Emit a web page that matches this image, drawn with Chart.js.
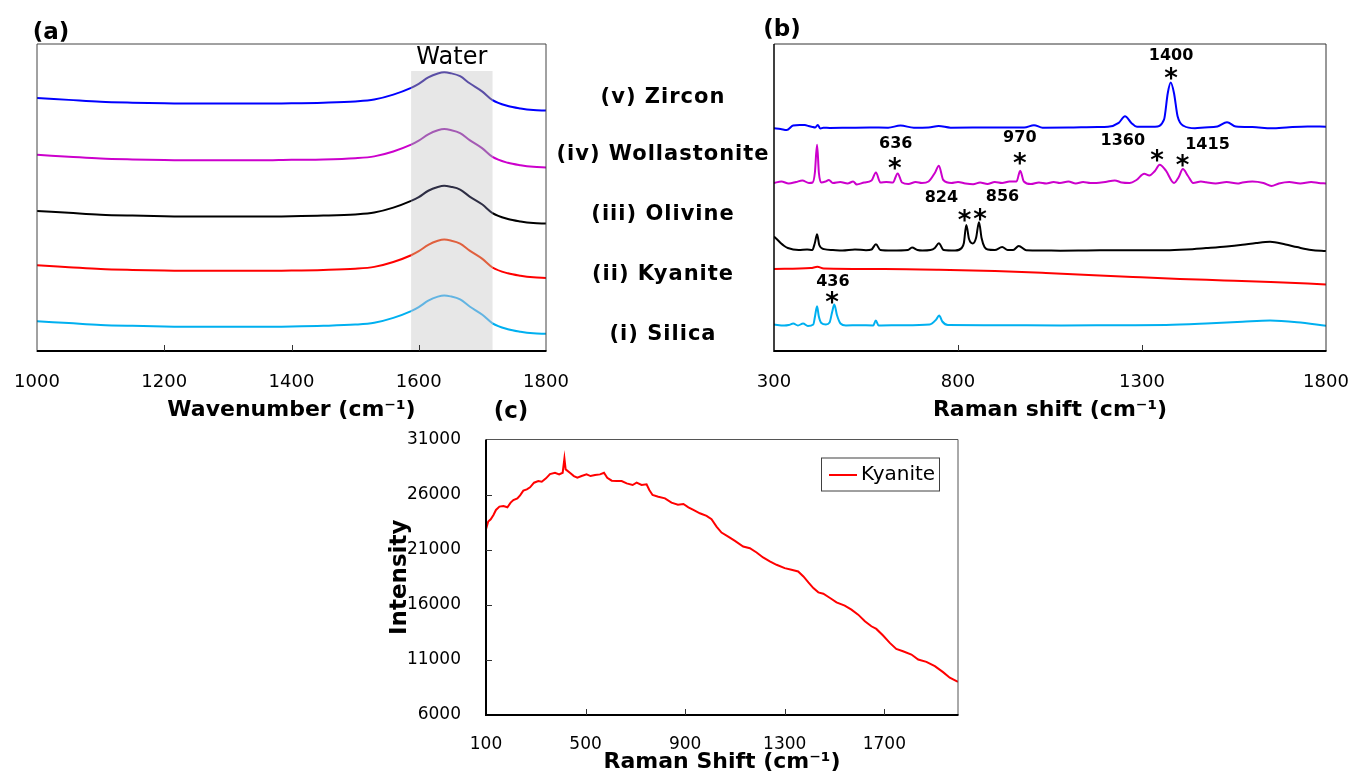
<!DOCTYPE html>
<html>
<head>
<meta charset="utf-8">
<script src="https://cdn.jsdelivr.net/npm/chart.js@4.4.1/dist/chart.umd.min.js"></script>
<style>
  body { margin: 0; background: #fff; width: 1352px; height: 775px; overflow: hidden; position: relative; font-family: 'DejaVu Sans', sans-serif; }
  canvas { position: absolute; left: 0; top: 0; }
  .lbl { position: absolute; transform: translate(-50%, -50%); font-weight: bold; white-space: nowrap; color: #000; }
  .sample { font-size: 21px; letter-spacing: 1px; }
  .panel { font-size: 23px; }
</style>
</head>
<body>
<canvas id="chartA" width="1352" height="775"></canvas>
<canvas id="chartB" width="1352" height="775"></canvas>
<canvas id="chartC" width="1352" height="775"></canvas>

<div class="lbl panel" style="left:51px;top:31px">(a)</div>
<div class="lbl panel" style="left:782px;top:28px">(b)</div>
<div class="lbl panel" style="left:511px;top:410px">(c)</div>
<div class="lbl sample" style="left:663px;top:96px">(v) Zircon</div>
<div class="lbl sample" style="left:663px;top:153px">(iv) Wollastonite</div>
<div class="lbl sample" style="left:663px;top:213px">(iii) Olivine</div>
<div class="lbl sample" style="left:663px;top:273px">(ii) Kyanite</div>
<div class="lbl sample" style="left:663px;top:333px">(i) Silica</div>

<script>
// ---- (a) FTIR, stacked spectra around the water band ----
const wavenumberA = [1000, 1050, 1100, 1150, 1200, 1250, 1300, 1350, 1400, 1450, 1500, 1530, 1560, 1588,
  1600, 1615, 1630, 1640, 1650, 1665, 1680, 1700, 1716, 1740, 1760, 1780, 1800];
const zirconA = [8.24, 8.18, 8.12, 8.09, 8.07, 8.06, 8.06, 8.06, 8.07, 8.09, 8.13, 8.19, 8.35, 8.57,
  8.70, 8.91, 9.04, 9.08, 9.05, 8.95, 8.72, 8.45, 8.17, 7.98, 7.90, 7.85, 7.83];
const wollastoniteA = [6.39, 6.33, 6.27, 6.24, 6.22, 6.21, 6.21, 6.21, 6.23, 6.24, 6.28, 6.34, 6.50, 6.72,
  6.85, 7.06, 7.19, 7.23, 7.20, 7.10, 6.87, 6.60, 6.32, 6.13, 6.05, 6.00, 5.98];
const olivineA = [4.56, 4.50, 4.44, 4.41, 4.39, 4.38, 4.38, 4.38, 4.39, 4.41, 4.45, 4.51, 4.67, 4.89,
  5.01, 5.22, 5.34, 5.38, 5.35, 5.26, 5.03, 4.77, 4.49, 4.30, 4.22, 4.17, 4.15];
const kyaniteA = [2.79, 2.73, 2.67, 2.64, 2.62, 2.61, 2.61, 2.61, 2.62, 2.64, 2.68, 2.74, 2.90, 3.12,
  3.25, 3.46, 3.59, 3.63, 3.60, 3.50, 3.27, 3.00, 2.72, 2.53, 2.45, 2.40, 2.38];
const silicaA = [0.97, 0.91, 0.85, 0.82, 0.80, 0.79, 0.79, 0.79, 0.80, 0.82, 0.86, 0.92, 1.08, 1.30,
  1.43, 1.64, 1.77, 1.81, 1.78, 1.68, 1.45, 1.18, 0.90, 0.71, 0.63, 0.58, 0.56];
const ticksA = [1000, 1200, 1400, 1600, 1800];
const waterBand = [1588, 1716];
const waterTop = 9.12;

// ---- (b) Raman spectra, [shift, offset intensity] ----
const zirconB = [[300,222.7],[318,222],[334.5,221],[352,225.5],[370,226],[384,226],[394,225],[402.4,224.3],[412,223.5],
  [418.7,226],[426,222.5],[434,223.3],[452,223],[500,223.2],[560,223.5],[610,223.3],[643.7,225.5],[680,223.3],
  [720,223.5],[747.5,225],[780,223.3],[900,223.5],[980,223.5],[1006.5,225.8],[1030,223.3],[1100,223.5],[1180,224],
  [1207.6,224.2],[1236.7,228.1],[1253.8,234.7],[1271,228.1],[1286.4,224.2],[1335.3,224.2],[1359.8,231.4],[1370,257.8],
  [1378,268.4],[1387,257.8],[1396.7,234.7],[1414,225],[1444,222.8],[1470,223.5],[1505,224.5],[1531,228.8],
  [1555,224.5],[1600,224],[1652,222.7],[1700,223.8],[1750,224.5],[1800,224.3]];
const wollastoniteB = [[300,168],[320,169.5],[340,167.5],[360,169],[377,170.5],[395,168],[405,168.5],[411,178],[417,206.3],
  [422,178],[428,168.6],[440,169.5],[449,171],[460,168],[480,169],[500,167.5],[515,169.5],[525,166.5],[545,168.5],
  [565,170.5],[577,178.6],[589,168.5],[605,169],[623,168.5],[636,177.6],[648,168.5],[665,167],[685,169],[702,168],
  [720,169.5],[737,178],[748,185.2],[760,171],[782,168],[800,169],[820,167.5],[841,166.7],[860,168.5],[880,167],
  [900,169],[920,168],[940,169.5],[959,169.5],[969,180.3],[979,169.5],[998,166.9],[1020,168.5],[1040,167.5],
  [1060,169],[1077,168],[1100,169.5],[1120,167.5],[1140,169],[1160,168],[1176,168],[1200,169],[1226,170.6],
  [1245,168.5],[1266,168],[1285,171],[1306,177.3],[1320,175.5],[1335,180],[1348,186.2],[1365,180.3],[1387,168],
  [1400,174],[1411,182],[1425,175],[1439,168],[1460,169.5],[1474,168.8],[1500,167.5],[1530,169],[1560,167.5],
  [1573,168.5],[1600,169.5],[1630,168],[1652,165],[1672,167.5],[1700,169],[1730,167.5],[1760,169],[1780,168],[1800,167.5]];
const olivineB = [[300,114.5],[310,111],[318,108],[328,105],[337.5,103],[367,101],[390,101.5],[404,101],[411,108],
  [417,116.8],[423,106],[436,101.9],[460,101],[486,100.5],[520,101.5],[550,100.8],[565,101.5],[577,106.8],[589,101],
  [620,100.5],[664,101],[675,103.5],[690,101],[703,100.5],[725,101],[737,103],[748,107.8],[761,101],[792,100.5],
  [810,103],[816,108],[822.5,126.1],[830,112],[840,107.5],[849,113],[857,128.8],[864,113],[872,104],[881,101.5],
  [900,101],[920,103.9],[935,101],[950,101],[965,105],[985,100.8],[1030,100.5],[1078,100.3],[1150,100.5],
  [1250,100.8],[1365,100.8],[1420,101.5],[1474,102.9],[1530,104.5],[1573,106.2],[1610,108],[1648,109.2],
  [1690,106.5],[1721,103.9],[1760,101],[1800,100]];
const kyaniteB = [[300,82],[400,83],[418,84.2],[435,82.5],[600,82],[748,81.3],[900,80],[1039,78],[1275,74],
  [1403,72],[1523,70.6],[1650,69],[1800,66.6]];
const silicaB = [[300,26.5],[327.6,25.5],[340,26],[352.4,27.5],[365,25.5],[379,27.5],[392,25],[406.8,26.5],
  [411.5,34.8],[417,44.7],[421.7,34.8],[428.6,28],[441,26.5],[451,28.5],[458,39],[464,46.4],[471,36],[480.7,27.5],
  [495.5,25.5],[530,25.8],[569.5,25.5],[576.6,30.4],[584.5,25.5],[650,25.8],[723,26.5],[740.6,31.4],[748.7,35.4],
  [757.4,29.5],[772.5,26],[900,25.8],[1078,25.5],[1250,25.8],[1365,26],[1474,27.4],[1573,29.2],[1648,30.4],
  [1721,28.8],[1800,25.3]];
const ticksB = [300, 800, 1300, 1800];
// peak labels and their asterisks (in the panel's data units)
const peakText = ['1400', '636', '970', '1360', '1415', '824', '856', '436'];
const peakTextX = [1379, 631, 968, 1248, 1478, 755, 921, 460];
const peakTextY = [295, 207, 213, 210, 206, 153, 154, 69];
const starX = [1379, 628, 968, 1341, 1410, 818, 860, 458];
const starY = [278, 188, 193, 196, 191, 136, 137, 54];

// ---- (c) Kyanite Raman, [shift, intensity] ----
const kyaniteC = [[100,22858],[109,23551],[119,23762],[130,24155],[140,24607],[154,24908],[170,24969],[186,24848],
  [199,25270],[210,25512],[226,25662],[237,25934],[250,26356],[264,26477],[277,26658],[293,27080],[310,27231],
  [324,27170],[341,27472],[357,27864],[377,27984],[394,27834],[408,27984],[415,29281],[420,28286],[437,27984],
  [453,27683],[467,27532],[484,27683],[504,27834],[520,27683],[538,27773],[558,27834],[574,27984],[587,27532],
  [605,27261],[625,27231],[645,27231],[665,27019],[689,26869],[705,27080],[725,26869],[745,26929],[756,26416],
  [769,25964],[792,25813],[819,25662],[845,25270],[871,25089],[893,25150],[913,24848],[933,24607],[959,24305],
  [986,24064],[1006,23762],[1026,23099],[1046,22556],[1073,22194],[1100,21802],[1133,21290],[1160,21139],
  [1187,20747],[1213,20294],[1240,19933],[1267,19631],[1300,19329],[1327,19179],[1354,19028],[1375,18575],
  [1395,18033],[1415,17520],[1435,17128],[1455,17007],[1482,16615],[1508,16223],[1541,15922],[1568,15560],
  [1595,15107],[1622,14504],[1648,14052],[1668,13811],[1695,13208],[1722,12544],[1748,12001],[1775,11790],
  [1809,11489],[1836,11036],[1869,10825],[1903,10433],[1936,9890],[1963,9378],[1996,9016]];
const ticksCx = [100, 500, 900, 1300, 1700];
const ticksCy = [6000, 11000, 16000, 21000, 26000, 31000];

Chart.defaults.font.family = "'DejaVu Sans', sans-serif";
Chart.defaults.color = '#000';
Chart.defaults.animation = false;

const pts = (xs, ys) => xs.map((x, i) => ({ x: x, y: ys[i] }));
const pairs = arr => arr.map(p => ({ x: p[0], y: p[1] }));

// frame around the plot area plus small inward tick marks
const framePlugin = {
  id: 'frame',
  afterDraw(chart, args, o) {
    const { ctx, chartArea: a } = chart;
    const line = (w, c, x1, y1, x2, y2) => {
      ctx.lineWidth = w; ctx.strokeStyle = c;
      ctx.beginPath(); ctx.moveTo(x1, y1); ctx.lineTo(x2, y2); ctx.stroke();
    };
    ctx.save();
    line(1, o.thinColor, a.left, a.top, a.right, a.top);
    line(1, o.thinColor, a.right, a.top, a.right, a.bottom);
    line(o.leftWidth, o.leftColor, a.left, a.top, a.left, a.bottom + 1);
    line(2, '#000', a.left, a.bottom, a.right + 0.5, a.bottom);
    (o.xMarks || []).forEach(v => {
      const x = Math.round(chart.scales.x.getPixelForValue(v)) + 0.5;
      line(1, '#333', x, a.bottom, x, a.bottom - 6);
    });
    (o.yMarks || []).forEach(v => {
      const y = Math.round(chart.scales.y.getPixelForValue(v)) + 0.5;
      line(1, '#333', a.left, y, a.left + 6, y);
    });
    ctx.restore();
  }
};

const fixTicks = list => scale => { scale.ticks = list.map(v => ({ value: v })); };
// fixed axis size, and no extra room asked for the edge labels
const fixHeight = h => s => { s.height = h; s.paddingLeft = 0; s.paddingRight = 0; };
const xTitle = text => ({ display: true, text: text, font: { size: 22, weight: 'bold' }, padding: { top: 0, bottom: 3 } });

// ---------- chart (a) ----------
const bandPlugin = {
  id: 'band',
  beforeDatasetsDraw(chart) {
    const { ctx, chartArea: a, scales: { x, y } } = chart;
    const x1 = x.getPixelForValue(waterBand[0]), x2 = x.getPixelForValue(waterBand[1]);
    const top = y.getPixelForValue(waterTop);
    ctx.save();
    ctx.fillStyle = '#e7e7e7';
    ctx.fillRect(x1, top, x2 - x1, a.bottom - top);
    ctx.restore();
  },
  afterDraw(chart) {
    const { ctx, scales: { x, y } } = chart;
    ctx.save();
    ctx.font = "24px 'DejaVu Sans'";
    ctx.fillStyle = '#000';
    ctx.textAlign = 'center';
    ctx.textBaseline = 'middle';
    ctx.fillText('Water', x.getPixelForValue((waterBand[0] + waterBand[1]) / 2), y.getPixelForValue(9.54));
    ctx.restore();
  }
};

const inBand = c => c.p0.parsed.x >= waterBand[0] && c.p1.parsed.x <= waterBand[1];
const seriesA = [
  { label: 'Zircon', data: zirconA, color: '#0000ff', band: '#5b4fa6' },
  { label: 'Wollastonite', data: wollastoniteA, color: '#cc00cc', band: '#a45bb4' },
  { label: 'Olivine', data: olivineA, color: '#000000', band: '#2e2e44' },
  { label: 'Kyanite', data: kyaniteA, color: '#ff0000', band: '#e0603e' },
  { label: 'Silica', data: silicaA, color: '#00b0f0', band: '#62b4e2' }
];

new Chart(document.getElementById('chartA'), {
  type: 'line',
  data: {
    datasets: seriesA.map(s => ({
      label: s.label,
      data: pts(wavenumberA, s.data),
      borderColor: s.color,
      borderWidth: 2,
      pointRadius: 0,
      cubicInterpolationMode: 'monotone',
      segment: { borderColor: c => inBand(c) ? s.band : undefined }
    }))
  },
  options: {
    responsive: false,
    layout: { padding: { left: 37, top: 44, right: 806, bottom: 349 } },
    plugins: {
      legend: { display: false }, tooltip: { enabled: false },
      frame: { thinColor: '#444', leftColor: '#444', leftWidth: 1, xMarks: [1200, 1400, 1600] }
    },
    scales: {
      x: {
        type: 'linear', min: 1000, max: 1800,
        afterBuildTicks: fixTicks(ticksA),
        afterFit: fixHeight(75),
        grid: { display: false }, border: { display: false },
        ticks: { font: { size: 18 }, padding: 13, maxRotation: 0, callback: v => String(v) },
        title: xTitle('Wavenumber (cm\u207B\u00B9)')
      },
      y: { display: false, min: 0, max: 10 }
    }
  },
  plugins: [bandPlugin, framePlugin]
});

// ---------- chart (b) ----------
const peakPlugin = {
  id: 'peaks',
  afterDatasetsDraw(chart) {
    const { ctx, scales: { x, y } } = chart;
    ctx.save();
    ctx.fillStyle = '#000';
    ctx.textAlign = 'center';
    peakText.forEach((t, i) => {
      ctx.font = "bold 16px 'DejaVu Sans'";
      ctx.textBaseline = 'middle';
      ctx.fillText(t, x.getPixelForValue(peakTextX[i]), y.getPixelForValue(peakTextY[i]));
      ctx.font = "bold 26px 'DejaVu Sans'";
      ctx.textBaseline = 'alphabetic';
      ctx.fillText('*', x.getPixelForValue(starX[i]), y.getPixelForValue(starY[i]) + 26 * 0.53);
    });
    ctx.restore();
  }
};

const seriesB = [
  { label: 'Zircon', data: zirconB, color: '#0000ff' },
  { label: 'Wollastonite', data: wollastoniteB, color: '#cc00cc' },
  { label: 'Olivine', data: olivineB, color: '#000000' },
  { label: 'Kyanite', data: kyaniteB, color: '#ff0000' },
  { label: 'Silica', data: silicaB, color: '#00b0f0' }
];

new Chart(document.getElementById('chartB'), {
  type: 'line',
  data: {
    datasets: seriesB.map(s => ({
      label: s.label,
      data: pairs(s.data),
      borderColor: s.color,
      borderWidth: 2,
      pointRadius: 0,
      cubicInterpolationMode: 'monotone'
    }))
  },
  options: {
    responsive: false,
    layout: { padding: { left: 774, top: 44, right: 26, bottom: 349 } },
    plugins: {
      legend: { display: false }, tooltip: { enabled: false },
      frame: { thinColor: '#333', leftColor: '#000', leftWidth: 1.5, xMarks: [800, 1300] }
    },
    scales: {
      x: {
        type: 'linear', min: 300, max: 1800,
        afterBuildTicks: fixTicks(ticksB),
        afterFit: fixHeight(75),
        grid: { display: false }, border: { display: false },
        ticks: { font: { size: 18 }, padding: 13, maxRotation: 0, callback: v => String(v) },
        title: xTitle('Raman shift (cm\u207B\u00B9)')
      },
      y: { display: false, min: 0, max: 307 }
    }
  },
  plugins: [peakPlugin, framePlugin]
});

// ---------- chart (c) ----------
const boxLegend = {
  id: 'boxLegend',
  afterDraw(chart) {
    const { ctx, chartArea: a } = chart;
    const left = a.right - 137, top = a.top + 18.5;
    ctx.save();
    ctx.fillStyle = '#fff';
    ctx.fillRect(left, top, 118, 33);
    ctx.strokeStyle = '#404040';
    ctx.lineWidth = 1;
    ctx.strokeRect(left + 0.5, top, 118, 33);
    ctx.strokeStyle = '#ff0000';
    ctx.lineWidth = 2;
    ctx.beginPath(); ctx.moveTo(left + 8, top + 17); ctx.lineTo(left + 36, top + 17); ctx.stroke();
    ctx.fillStyle = '#000';
    ctx.font = "20px 'DejaVu Sans'";
    ctx.textBaseline = 'middle';
    ctx.fillText(chart.data.datasets[0].label, left + 40, top + 17);
    ctx.restore();
  }
};

new Chart(document.getElementById('chartC'), {
  type: 'line',
  data: {
    datasets: [{
      label: 'Kyanite',
      data: pairs(kyaniteC),
      borderColor: '#ff0000',
      borderWidth: 2,
      pointRadius: 0,
      tension: 0
    }]
  },
  options: {
    responsive: false,
    layout: { padding: { left: 386, top: 439.5, right: 394, bottom: 0 } },
    plugins: {
      legend: { display: false }, tooltip: { enabled: false },
      frame: { thinColor: '#555', leftColor: '#000', leftWidth: 2,
        xMarks: [500, 900, 1300, 1700], yMarks: [11000, 16000, 21000, 26000] }
    },
    scales: {
      x: {
        type: 'linear', min: 100, max: 1996,
        afterBuildTicks: fixTicks(ticksCx),
        afterFit: fixHeight(60),
        grid: { display: false }, border: { display: false },
        ticks: { font: { size: 17 }, padding: 11, maxRotation: 0, callback: v => String(v) },
        title: { display: true, text: 'Raman Shift (cm\u207B\u00B9)', font: { size: 22, weight: 'bold' }, padding: { top: 0, bottom: 0 } }
      },
      y: {
        type: 'linear', min: 6000, max: 31000,
        afterBuildTicks: fixTicks(ticksCy),
        afterFit: s => { s.width = 100; s.paddingTop = 0; s.paddingBottom = 0; },
        grid: { display: false }, border: { display: false },
        ticks: { font: { size: 17 }, padding: 17, callback: v => String(v) },
        title: { display: true, text: 'Intensity', font: { size: 23, weight: 'bold' }, padding: { top: 0, bottom: 0 } }
      }
    }
  },
  plugins: [boxLegend, framePlugin]
});
</script>
</body>
</html>
